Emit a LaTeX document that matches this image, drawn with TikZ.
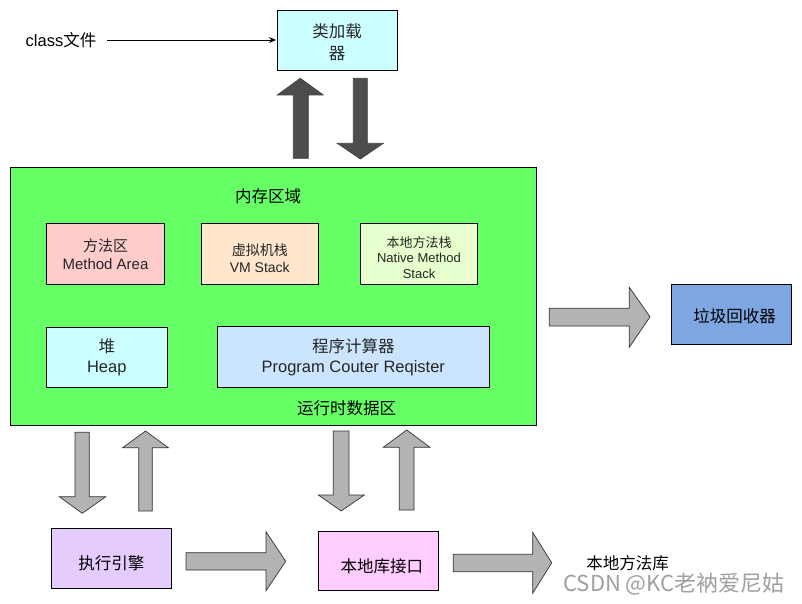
\documentclass[tikz,border=0pt]{standalone}
\usepackage{fontspec}
\setmainfont{Liberation Sans}
\newfontfamily\cjk{Noto Sans CJK SC}
\usetikzlibrary{arrows.meta}
\definecolor{memgreen}{HTML}{66FF66}
\definecolor{loadercol}{HTML}{CCFFFF}
\definecolor{macol}{HTML}{FFCCCC}
\definecolor{vmcol}{HTML}{FFE6CC}
\definecolor{nscol}{HTML}{E6FFCC}
\definecolor{heapcol}{HTML}{CCFFFF}
\definecolor{pccol}{HTML}{CCE5FF}
\definecolor{eecol}{HTML}{E5CCFF}
\definecolor{nlicol}{HTML}{FFCCFF}
\definecolor{gccol}{HTML}{7EA6E0}
\definecolor{arrgray}{HTML}{B3B3B3}
\definecolor{arrdark}{HTML}{4D4D4D}
\definecolor{wmgray}{HTML}{A0A0A0}
\newcommand\lowr[2]{\raisebox{-#1}[\height][\depth]{#2}}
\begin{document}
\begin{tikzpicture}[x=1pt,y=-1pt,
  box/.style={draw=black, line width=0.9pt, inner sep=0pt, outer sep=0pt, align=center, text=black!85},
  plain/.style={inner sep=0pt, align=center, text=black},
  garrow/.style={fill=arrgray, draw=black!80, line width=0.7pt, line join=miter},
  darrow/.style={fill=arrdark, draw=black!75, line width=0.7pt, line join=miter},
  fA/.style={font=\fontsize{16.5}{20}\selectfont},
  fB/.style={font=\fontsize{15}{18}\selectfont},
  fC/.style={font=\fontsize{14}{17}\selectfont},
  fD/.style={font=\fontsize{13}{15.5}\selectfont}]
\useasboundingbox[fill=white] (0,0) rectangle (802,604);

% class loader
\node[box, fill=loadercol, minimum width=120pt, minimum height=60pt, font=\fontsize{16.5}{21.5}\selectfont] (loader) at (337,40) {\lowr{2pt}{\cjk 类加载}\\\lowr{2pt}{\cjk 器}};
\node[plain, fA, inner xsep=0pt] (cls) at (61,40) {class{\cjk 文件}};
\draw[line width=0.8pt, -{Stealth[length=7pt,width=6pt]}, shorten <=11pt, shorten >=1pt] (cls.east) -- (loader.west);

% dark arrows
\draw[darrow] (293.3,158.3) -- (293.3,95) -- (277.3,95) -- (300.3,78.3) -- (323.3,95) -- (308.3,95) -- (308.3,158.3) -- cycle;
\draw[darrow] (353.3,78.3) -- (353.3,143.3) -- (337.3,143.3) -- (360.3,159) -- (383.3,143.3) -- (367.3,143.3) -- (367.3,78.3) -- cycle;

% memory area
\node[draw=black, line width=0.9pt, fill=memgreen, minimum width=526.5pt, minimum height=258.5pt, inner sep=0pt] (mem) at (273.3,296.3) {};
\node[plain, fA] (memtitle) at (268,196) {\cjk 内存区域};
\node[plain, fA] (rtda) at (346.7,408) {\cjk 运行时数据区};

\node[box, fill=macol, minimum width=117.6pt, minimum height=61pt, fB] (ma) at (105.5,253.8) {{\cjk 方法区}\\Method Area};
\node[box, fill=vmcol, minimum width=117pt, minimum height=61pt, fC] (vm) at (259.8,253.8) {\lowr{4pt}{\cjk 虚拟机栈}\\\lowr{4pt}{VM Stack}};
\node[box, fill=nscol, minimum width=117.4pt, minimum height=61pt, fD] (ns) at (419,253.8) {\lowr{3.5pt}{\cjk 本地方法栈}\\\lowr{3.5pt}{Native Method}\\\lowr{3.5pt}{Stack}};
\node[box, fill=heapcol, minimum width=120.3pt, minimum height=60pt, fA] (heap) at (106.8,357.3) {{\cjk 堆}\\Heap};
\node[box, fill=pccol, minimum width=272pt, minimum height=61pt, fA] (pc) at (353.3,356.8) {{\cjk 程序计算器}\\Program Couter Reqister};

% garbage collector
\draw[garrow] (549.3,308.3) -- (629.3,308.3) -- (629.3,287.3) -- (650,316.8) -- (629.3,347.3) -- (629.3,326) -- (549.3,326) -- cycle;
\node[box, fill=gccol, minimum width=120pt, minimum height=60pt, fA, text=black] (gc) at (731.7,314) {\hspace{6pt}\lowr{2.5pt}{\cjk 垃圾回收器}};

% lower gray arrows
\draw[garrow] (75,432.3) -- (75,496.7) -- (59.3,496.7) -- (82.3,513.3) -- (105.7,496.7) -- (89.3,496.7) -- (89.3,432.3) -- cycle;
\draw[garrow] (138.7,511) -- (138.7,447.7) -- (122.7,447.7) -- (145.5,431) -- (168.3,447.7) -- (152.3,447.7) -- (152.3,511) -- cycle;
\draw[garrow] (333.3,431) -- (333.3,495) -- (318.3,495) -- (341.2,511) -- (364.3,495) -- (349,495) -- (349,431) -- cycle;
\draw[garrow] (399.3,510) -- (399.3,447.3) -- (383.3,447.3) -- (406.7,430) -- (430,447.3) -- (414,447.3) -- (414,510) -- cycle;

% execution engine, native interface
\node[box, fill=eecol, minimum width=120.7pt, minimum height=60pt, fA, text=black] (ee) at (111.3,558.3) {\lowr{5pt}{\cjk 执行引擎}};
\node[box, fill=nlicol, minimum width=120pt, minimum height=59pt, fA, text=black] (nli) at (378.3,561.2) {\hspace{7pt}\lowr{5pt}{\cjk 本地库接口}};
\draw[garrow] (186,552.7) -- (266,552.7) -- (266,531.7) -- (285.7,561.3) -- (266,590.7) -- (266,570) -- (186,570) -- cycle;
\draw[garrow] (453.3,554.3) -- (532.7,554.3) -- (532.7,532.3) -- (551.7,562.8) -- (532.7,593.3) -- (532.7,571.7) -- (453.3,571.7) -- cycle;
\node[plain, fA] (nlib) at (627.5,563.5) {\cjk 本地方法库};

% watermark
\node[plain, text=wmgray, font=\cjk\fontsize{22}{24}\selectfont] (wm) at (674,584) {CSDN @KC老衲爱尼姑};
\end{tikzpicture}
\end{document}
